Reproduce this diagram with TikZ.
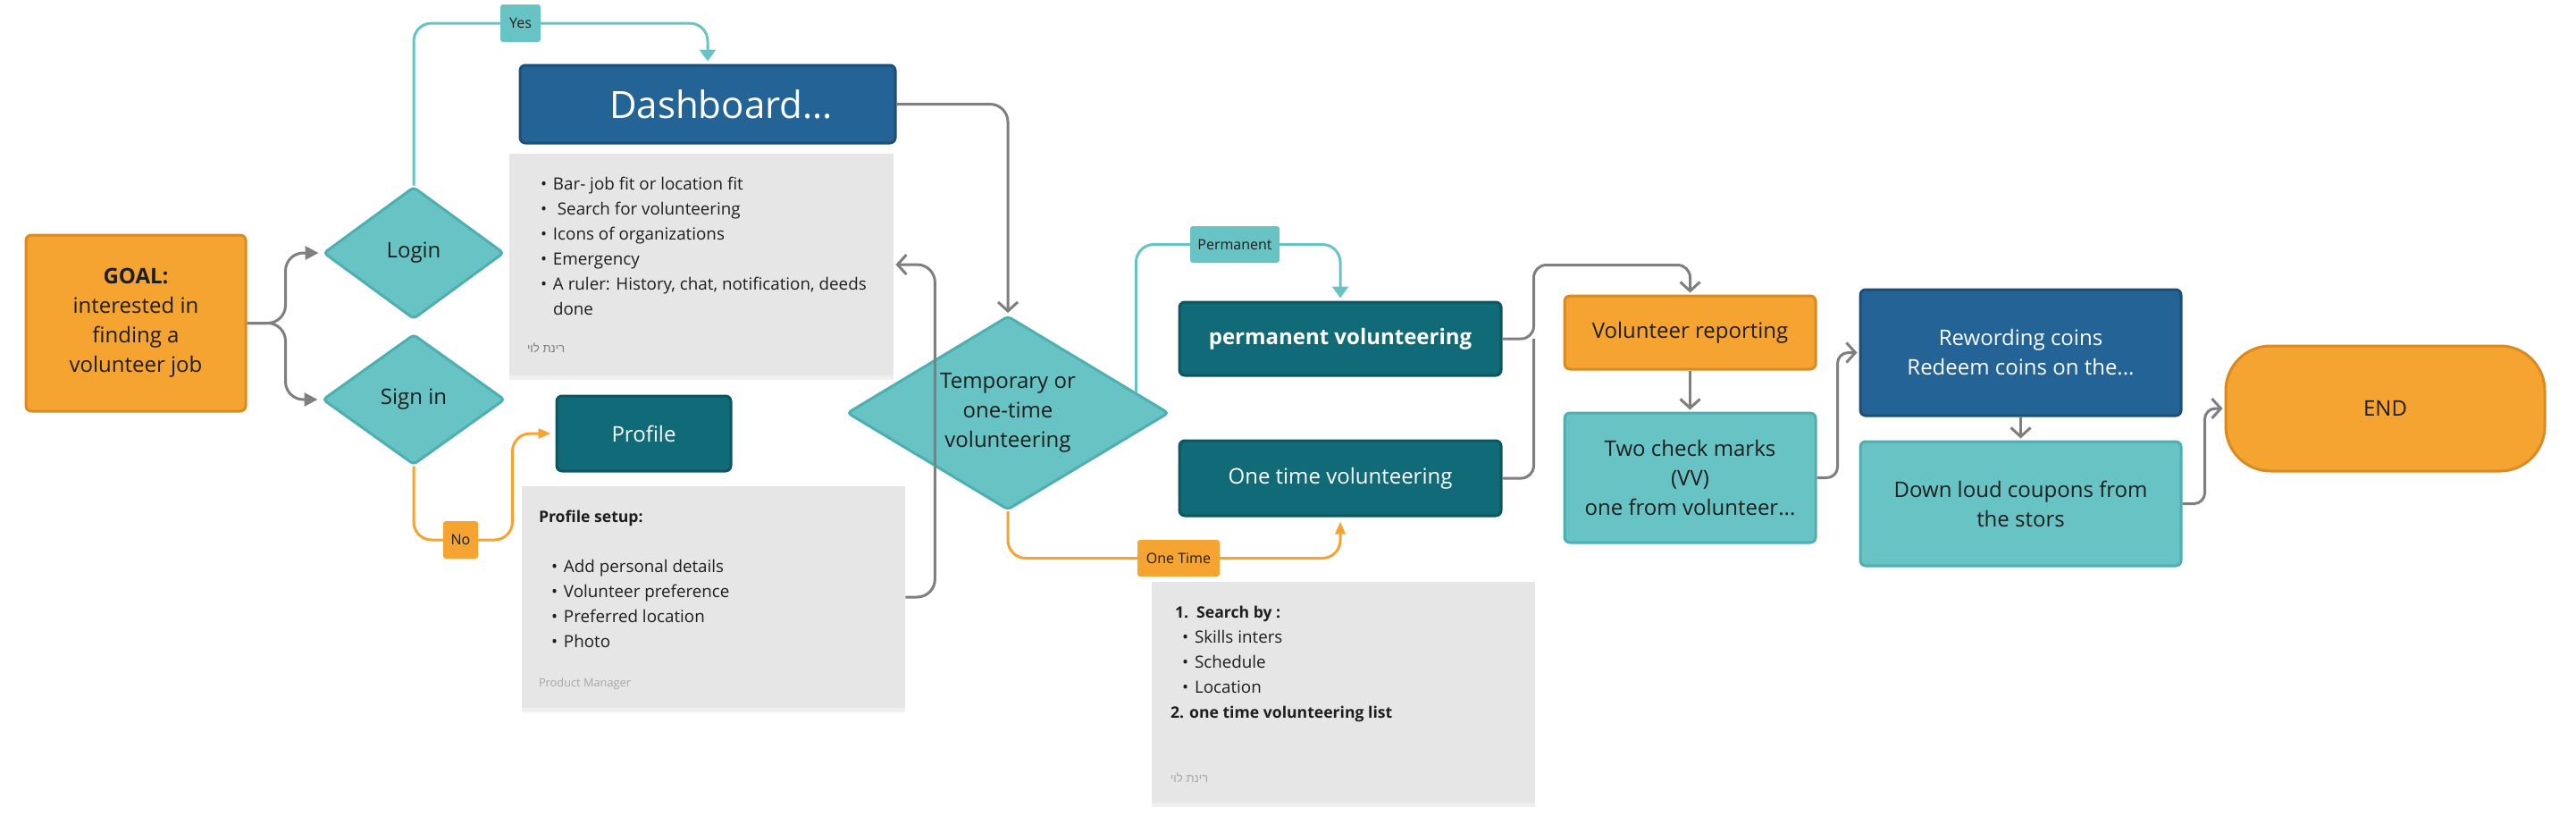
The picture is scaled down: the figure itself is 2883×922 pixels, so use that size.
\documentclass[tikz,border=0pt]{standalone}
\usepackage{fontspec}
\setmainfont{Open Sans}
\newfontfamily\hebfont[Script=Hebrew]{Liberation Sans}
\TeXXeTstate=1
\usetikzlibrary{arrows.meta,shapes.geometric,shadows,calc}
\definecolor{corange}{HTML}{F5A331}
\definecolor{corangeb}{HTML}{D98B22}
\definecolor{cteal}{HTML}{68C3C5}
\definecolor{ctealb}{HTML}{4DAFB1}
\definecolor{cdteal}{HTML}{106A78}
\definecolor{cdtealb}{HTML}{0C5661}
\definecolor{cblue}{HTML}{236396}
\definecolor{cblueb}{HTML}{1B4F78}
\definecolor{cnote}{HTML}{E6E6E6}
\definecolor{cgray}{HTML}{7F7F7F}
\definecolor{ctext}{HTML}{1E1E1E}
\definecolor{cfaint}{HTML}{A6A6A6}
\definecolor{chebA}{HTML}{7A7A7A}
\newcommand\nbul[2]{\hspace*{#1}\makebox[7pt][l]{\textbullet}#2}
\newcommand\nbold[1]{{\fontsize{8.8}{14}\selectfont\bfseries #1}}
\newcommand\notefont{\fontsize{9.4}{14}\selectfont}
\tikzset{
  box/.style={rectangle, rounded corners=3pt, line width=1.5pt, inner sep=0pt, align=center,
    font=\fontsize{12}{16.5}\selectfont, text=ctext},
  orangebox/.style={box, fill=corange, draw=corangeb},
  tealbox/.style={box, fill=cteal, draw=ctealb},
  dtealbox/.style={box, fill=cdteal, draw=cdtealb, text=white},
  bluebox/.style={box, fill=cblue, draw=cblueb, text=white},
  dia/.style={diamond, fill=cteal, draw=ctealb, line width=1.5pt, inner sep=0pt, align=center,
    rounded corners=2pt, font=\fontsize{12}{16.5}\selectfont, text=ctext},
  note/.style={rectangle, fill=cnote, inner sep=0pt, text=ctext,
    drop shadow={shadow xshift=0pt, shadow yshift=-2.5pt, opacity=0.12}},
  lbl/.style={rectangle, rounded corners=1.5pt, inner sep=0pt, font=\fontsize{8}{9}\selectfont, text=ctext},
  conn/.style={line width=1.5pt, rounded corners=10pt},
  gconn/.style={conn, draw=cgray},
  tconn/.style={conn, draw=cteal},
  oconn/.style={conn, draw=corange},
  gfill/.style={-{Triangle[length=7.5pt,width=7.5pt]}, shorten >=2pt},
  gopen/.style={-{Straight Barb[length=5pt,width=11pt]}, shorten >=1pt},
  tfill/.style={-{Triangle[length=6.5pt,width=9pt]}, shorten >=1.5pt},
  ofill/.style={-{Triangle[length=7pt,width=5.5pt]}, shorten >=2.5pt}
}
\begin{document}
\begin{tikzpicture}[x=0.5pt,y=-0.5pt]
\fill[white] (0,0) rectangle (2883,922);
\useasboundingbox (0,0) rectangle (2883,922);

% main nodes
\node[orangebox, minimum width=123pt, minimum height=98.5pt] (goal) at (152,361.5)
  {\textbf{GOAL:}\\interested in\\finding a\\volunteer job};
\node[dia, aspect=1.365, minimum width=101pt, minimum height=74pt] (login) at (463,283) {Login};
\node[dia, aspect=1.365, minimum width=102pt, minimum height=73pt] (signin) at (463,447) {Sign in};
\node[bluebox, minimum width=210pt, minimum height=43.5pt, font=\fontsize{21}{25}\selectfont] (dash) at (792,116.5)
  {\hspace*{15pt}Dashboard...};
\node[note, minimum width=215pt, minimum height=124pt] (dashnote) at (785,296)
  {\parbox[c][124pt][t]{215pt}{\raggedright\notefont
   \rule{0pt}{20pt}\nbul{17.5pt}{Bar- job fit or location fit}\\
   \nbul{17.5pt}{\ Search for volunteering}\\
   \nbul{17.5pt}{Icons of organizations}\\
   \nbul{17.5pt}{Emergency}\\
   \nbul{17.5pt}{A ruler: History, chat, notification, deeds}\\
   \hspace*{24.5pt}done\\[7pt]
   \hspace*{10pt}{\hebfont\fontsize{6.6}{8}\selectfont\color{chebA}\beginR רינת לוי\endR}}};
\node[dtealbox, minimum width=97.5pt, minimum height=42pt] (profile) at (720.5,485) {Profile};
\node[note, minimum width=214.5pt, minimum height=124pt] (profnote) at (798.5,668)
  {\parbox[c][124pt][t]{214.5pt}{\raggedright\notefont
   \rule{0pt}{20pt}\hspace*{9.5pt}\nbold{Profile setup:}\\[14pt]
   \nbul{16.5pt}{Add personal details}\\
   \nbul{16.5pt}{Volunteer preference}\\
   \nbul{16.5pt}{Preferred location}\\
   \nbul{16.5pt}{Photo}\\[8pt]
   \hspace*{9.5pt}{\fontsize{6.4}{8}\selectfont\color{cfaint}Product Manager}}};
\node[dia, aspect=1.66, minimum width=180pt, minimum height=108.5pt] (temp) at (1128,462)
  {Temporary or\\one-time\\volunteering};
\node[dtealbox, minimum width=180pt, minimum height=41pt, font=\bfseries\fontsize{12}{16.5}\selectfont] (perm) at (1500,379)
  {permanent volunteering};
\node[dtealbox, minimum width=180pt, minimum height=42pt] (onetime) at (1500,535) {One time volunteering};
\node[note, minimum width=214.5pt, minimum height=123.5pt] (onenote) at (1503.5,774.5)
  {\parbox[c][123.5pt][t]{214.5pt}{\raggedright\notefont
   \rule{0pt}{20pt}\hspace*{13pt}\nbold{1.\ \ Search by :}\\
   \nbul{17pt}{Skills inters}\\
   \nbul{17pt}{Schedule}\\
   \nbul{17pt}{Location}\\
   \hspace*{10.5pt}\nbold{2. one time volunteering list}\\[22pt]
   \hspace*{10.5pt}{\hebfont\fontsize{6.6}{8}\selectfont\color{cfaint}\beginR רינת לוי\endR}}};
\node[orangebox, minimum width=140.5pt, minimum height=41pt] (report) at (1891.5,372) {Volunteer reporting};
\node[tealbox, minimum width=140.5pt, minimum height=72.5pt] (check) at (1891.5,534.5)
  {Two check marks\\(VV)\\one from volunteer...};
\node[bluebox, minimum width=179.5pt, minimum height=70.5pt] (coins) at (2261.5,394.5)
  {Rewording coins\\Redeem coins on the...};
\node[tealbox, minimum width=179.5pt, minimum height=69.5pt] (coupons) at (2261.5,563.5)
  {Down loud coupons from\\the stors};
\node[orangebox, rounded corners=25pt, minimum width=178.5pt, minimum height=70pt] (endn) at (2669.5,457) {END};

% label positions
\coordinate (yesc) at (582.5,26);
\coordinate (noc) at (515.5,604);
\coordinate (permc) at (1382,273.5);
\coordinate (onec) at (1319,624.5);
\coordinate (tempedge) at ($(temp.east)!0.21!(temp.north)$);

% connectors
\draw[gconn, gfill] (goal.east) -- ++(43,0) |- (login.west);
\draw[gconn, gfill] (goal.east) -- ++(43,0) |- (signin.west);
\draw[tconn, tfill] (login.north) |- (yesc) -| (dash.north);
\draw[oconn, ofill] (signin.south) |- (noc) -| ($(profile.west)+(-48,0)$) -- (profile.west);
\draw[gconn, gopen] (dash.east) -| (temp.north);
\draw[gconn, gopen] (profnote.east) -- ++(33,0) |- (dashnote.east);
\draw[tconn, tfill] (tempedge) |- (permc) -| (perm.north);
\draw[oconn, ofill] (temp.south) |- (onec) -| (onetime.south);
\draw[gconn, rounded corners=7pt, gopen] (perm.east) -- ++(35,0) |- ($(report.north)+(0,-33)$) -- (report.north);
\draw[gconn, rounded corners=7pt] (onetime.east) -- ++(35,0) -- ($(perm.east)+(35,0)$);
\draw[gconn, gopen] (report.south) -- (check.north);
\draw[gconn, rounded corners=6pt, gopen] (check.east) -- ++(23,0) |- (coins.west);
\draw[gconn, gopen] (coins.south) -- (coupons.north);
\draw[gconn, rounded corners=6pt, gopen] (coupons.east) -- ++(25,0) |- (endn.west);

% connector labels
\node[lbl, fill=cteal, minimum width=22.5pt, minimum height=21pt] (yes) at (yesc) {Yes};
\node[lbl, fill=corange, minimum width=19.5pt, minimum height=21pt] (no) at (noc) {No};
\node[lbl, fill=cteal, minimum width=50pt, minimum height=20.5pt] (permlbl) at (permc) {Permanent};
\node[lbl, fill=corange, minimum width=46pt, minimum height=20.5pt] (onelbl) at (onec) {One Time};
\end{tikzpicture}
\end{document}
